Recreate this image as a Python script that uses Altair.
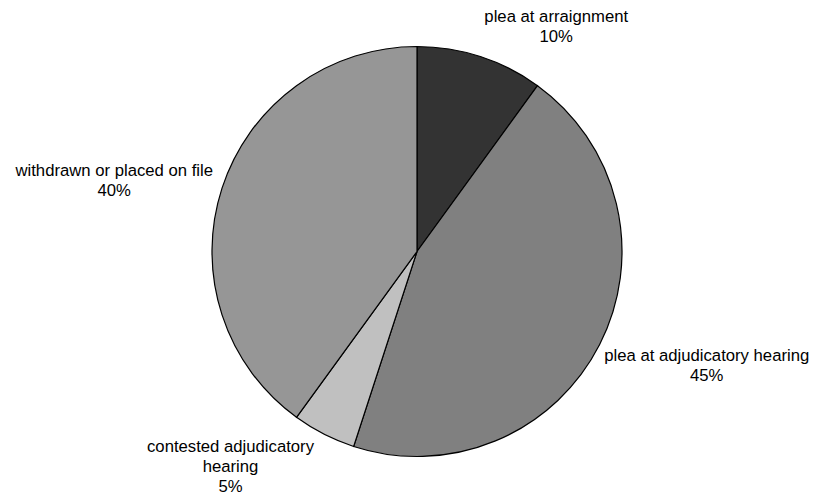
import altair as alt
import pandas as pd

categories = ["plea at arraignment", "plea at adjudicatory hearing",
              "contested adjudicatory hearing", "withdrawn or placed on file"]
values = [10, 45, 5, 40]
label_lines = [["plea at arraignment", "10%"],
               ["plea at adjudicatory hearing", "45%"],
               ["contested adjudicatory", "hearing", "5%"],
               ["withdrawn or placed on file", "40%"]]

colors = ["#333333", "#808080", "#C0C0C0", "#969696"]

df = pd.DataFrame({
    "cat": categories,
    "value": values,
    "idx": list(range(len(categories))),
    "label": ["\n".join(l) for l in label_lines],
})

CX, CY, R = 409, 243.5, 205
FONT = "Liberation Sans"

theta_scale = alt.Scale(domain=[0, 100])

base = alt.Chart(df)

pie = base.mark_arc(radius=R, stroke="black", strokeWidth=1.2).encode(
    theta=alt.Theta("value:Q", stack=True, scale=theta_scale),
    order=alt.Order("idx:Q"),
    color=alt.Color("cat:N", scale=alt.Scale(domain=categories, range=colors), legend=None),
    x=alt.value(CX), y=alt.value(CY),
)

# label placement style: (radius, dx, dy)
label_style = {
    "plea at arraignment": (250, 62, 3),
    "plea at adjudicatory hearing": (250, 67, -9),
    "contested adjudicatory hearing": (250, -73, -27),
    "withdrawn or placed on file": (250, -65, -3),
}

layers = [pie]
for cat in categories:
    r, dx, dy = label_style[cat]
    t = base.transform_window(
        cum="sum(value)", sort=[alt.SortField("idx")]
    ).transform_calculate(
        mid="datum.cum - datum.value / 2"
    ).transform_filter(
        alt.datum.cat == cat
    ).mark_text(
        radius=r, dx=dx, dy=dy, font=FONT, fontSize=16.7, color="black",
        align="center", baseline="middle", lineBreak="\n", lineHeight=20,
    ).encode(
        theta=alt.Theta("mid:Q", scale=theta_scale),
        text="label:N",
        x=alt.value(CX), y=alt.value(CY),
    )
    layers.append(t)

chart = alt.layer(*layers).properties(
    width=801, height=488, padding=0, autosize=alt.AutoSizeParams(type="none")
).configure_view(stroke=None)

chart.save("out.html", embed_options={"renderer": "svg", "actions": False})
